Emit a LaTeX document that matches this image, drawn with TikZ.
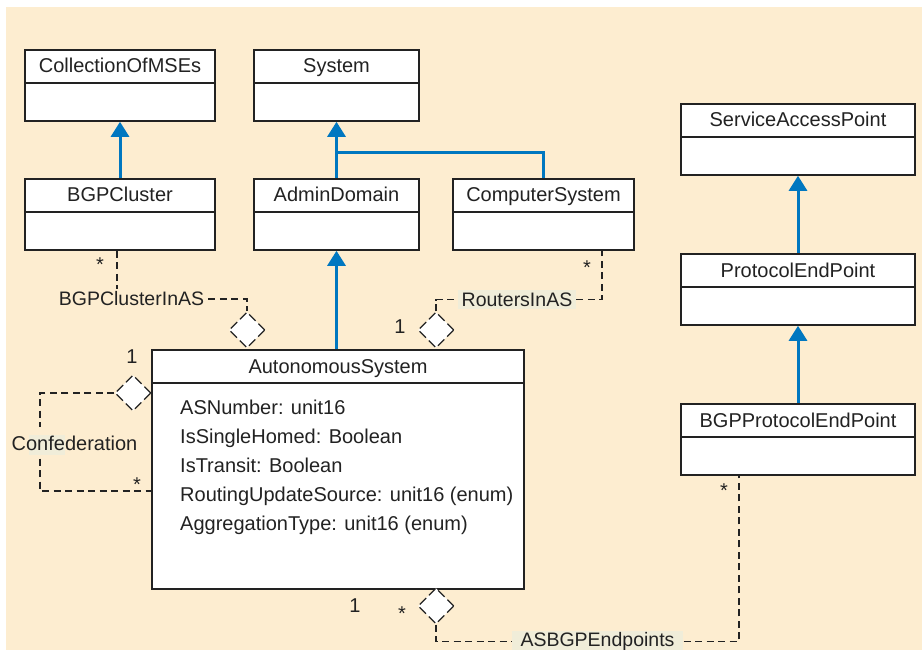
\documentclass[tikz,border=0pt]{standalone}
\usepackage{fontspec}
\setmainfont{Liberation Sans}
\usetikzlibrary{arrows.meta,shapes.geometric}

\definecolor{paper}{RGB}{253,237,208}
\definecolor{tagbg}{RGB}{240,237,217}
\definecolor{inkblue}{RGB}{0,119,192}
\definecolor{ink}{RGB}{34,34,34}

\tikzset{
  every node/.style={font=\fontsize{20pt}{24pt}\selectfont, text=ink},
  classbox/.style={draw=ink, line width=1.8pt, fill=white, inner sep=0pt, anchor=north},
  sepline/.style={draw=ink, line width=1.8pt},
  classname/.style={anchor=base, inner sep=0pt},
  attrline/.style={anchor=base west, inner sep=0pt},
  genarrow/.style={draw=inkblue, line width=3pt, -{Triangle[width=18pt,length=15pt]}},
  genline/.style={draw=inkblue, line width=3pt},
  assoc/.style={draw=ink, line width=1.3pt, dash pattern=on 7pt off 4.5pt},
  aggr/.style={diamond, draw=ink, line width=1.3pt, dash pattern=on 9pt off 4pt,
    fill=white, minimum width=36pt, minimum height=36pt, inner sep=0pt},
  relname/.style={inner xsep=4pt, inner ysep=2.5pt, font=\fontsize{19.5pt}{24pt}\selectfont},
  mult/.style={inner sep=0pt},
}

% class box: name, centre x, top y, width, height, class name
\newcommand{\umlclass}[6]{%
  \node[classbox, minimum width=#4pt, minimum height=#5pt] (#1) at (#2,#3) {};
  \draw[sepline] ([yshift=-34pt]#1.north west) -- ([yshift=-34pt]#1.north east);
  \node[classname] (#1-title) at ([yshift=-24pt]#1.north) {#6};
}

\begin{document}
\begin{tikzpicture}[x=1pt, y=-1pt]
  \useasboundingbox (0,0) rectangle (922,650);
  \fill[white] (0,0) rectangle (922,650);
  \fill[paper] (6,7) rectangle (922,650);

  % classes
  \umlclass{coll}{120}{49}{190}{71}{CollectionOfMSEs}
  \umlclass{sys}{336.5}{49}{165}{71}{System}
  \umlclass{bgpc}{120}{178}{190}{71}{BGPCluster}
  \umlclass{admin}{336.5}{178}{165}{71}{AdminDomain}
  \umlclass{comp}{543.5}{178}{181}{71}{ComputerSystem}
  \umlclass{sap}{798}{103}{234}{71}{ServiceAccessPoint}
  \umlclass{pep}{798}{253}{234}{71}{ProtocolEndPoint}
  \umlclass{bpep}{798}{403}{234}{71}{BGPProtocolEndPoint}
  \umlclass{as}{338}{349}{372}{239}{AutonomousSystem}

  % attributes of AutonomousSystem
  \node[attrline] (a1) at (180,414.5) {ASNumber: unit16};
  \node[attrline] (a2) at (180,443.5) {IsSingleHomed: Boolean};
  \node[attrline] (a3) at (180,472.5) {IsTransit: Boolean};
  \node[attrline] (a4) at (180,501.5) {RoutingUpdateSource: unit16 (enum)};
  \node[attrline] (a5) at (180,530.5) {AggregationType: unit16 (enum)};

  % generalisations
  \draw[genarrow] (bgpc.north) -- (coll.south);
  \draw[genarrow] (admin.north) -- (sys.south);
  \coordinate (gen-join) at (336.5,153);
  \draw[genline] (comp.north) |- (gen-join);
  \draw[genarrow] (admin.south |- as.north) -- (admin.south);
  \draw[genarrow] (pep.north) -- (sap.south);
  \draw[genarrow] (bpep.north) -- (pep.south);

  % aggregation diamonds
  \node[aggr] (d-clu) at (247,330) {};
  \node[aggr] (d-rtr) at (436,330) {};
  \node[aggr] (d-conf) at (133,393) {};
  \node[aggr] (d-ep) at (436,606) {};

  % BGPClusterInAS
  \node[relname] (r-clu) at (131.5,299) {BGPClusterInAS};
  \draw[assoc] ([xshift=-3pt]bgpc.south) -- ([xshift=-3pt]bgpc.south |- r-clu.north);
  \draw[assoc] (r-clu.east) -| (d-clu.north);

  % RoutersInAS
  \node[relname, fill=tagbg] (r-rtr) at (517,299.5) {RoutersInAS};
  \draw[assoc] (d-rtr.north) |- (r-rtr.west);
  \draw[assoc] (r-rtr.east) -| ([xshift=58.5pt]comp.south);

  % Confederation
  \fill[tagbg] (29,435) rectangle (65,455);
  \node[relname, inner ysep=8pt, font=\fontsize{20pt}{24pt}\selectfont] (r-conf) at (74.5,443) {Confederation};
  \coordinate (conf-a) at (40,393);
  \coordinate (conf-b) at (40,491);
  \draw[assoc] (d-conf.west) -- (conf-a) -- (conf-a |- r-conf.north);
  \draw[assoc] (conf-b |- r-conf.south) -- (conf-b) -- (as.west |- conf-b);

  % ASBGPEndpoints
  \node[relname, fill=tagbg, inner ysep=1pt, inner xsep=9pt] (r-ep) at (597.5,641.5) {ASBGPEndpoints};
  \draw[assoc] (d-ep.south) |- (r-ep.west);
  \draw[assoc] (r-ep.east) -| ([xshift=-59pt]bpep.south);

  % multiplicities
  \node[mult] (m1) at (100,265) {*};
  \node[mult] (m2) at (587,267.5) {*};
  \node[mult] (m3) at (400,327) {1};
  \node[mult] (m4) at (132,357) {1};
  \node[mult] (m5) at (137,485) {*};
  \node[mult] (m6) at (355,605.5) {1};
  \node[mult] (m7) at (402,614) {*};
  \node[mult] (m8) at (724,491) {*};
\end{tikzpicture}
\end{document}
